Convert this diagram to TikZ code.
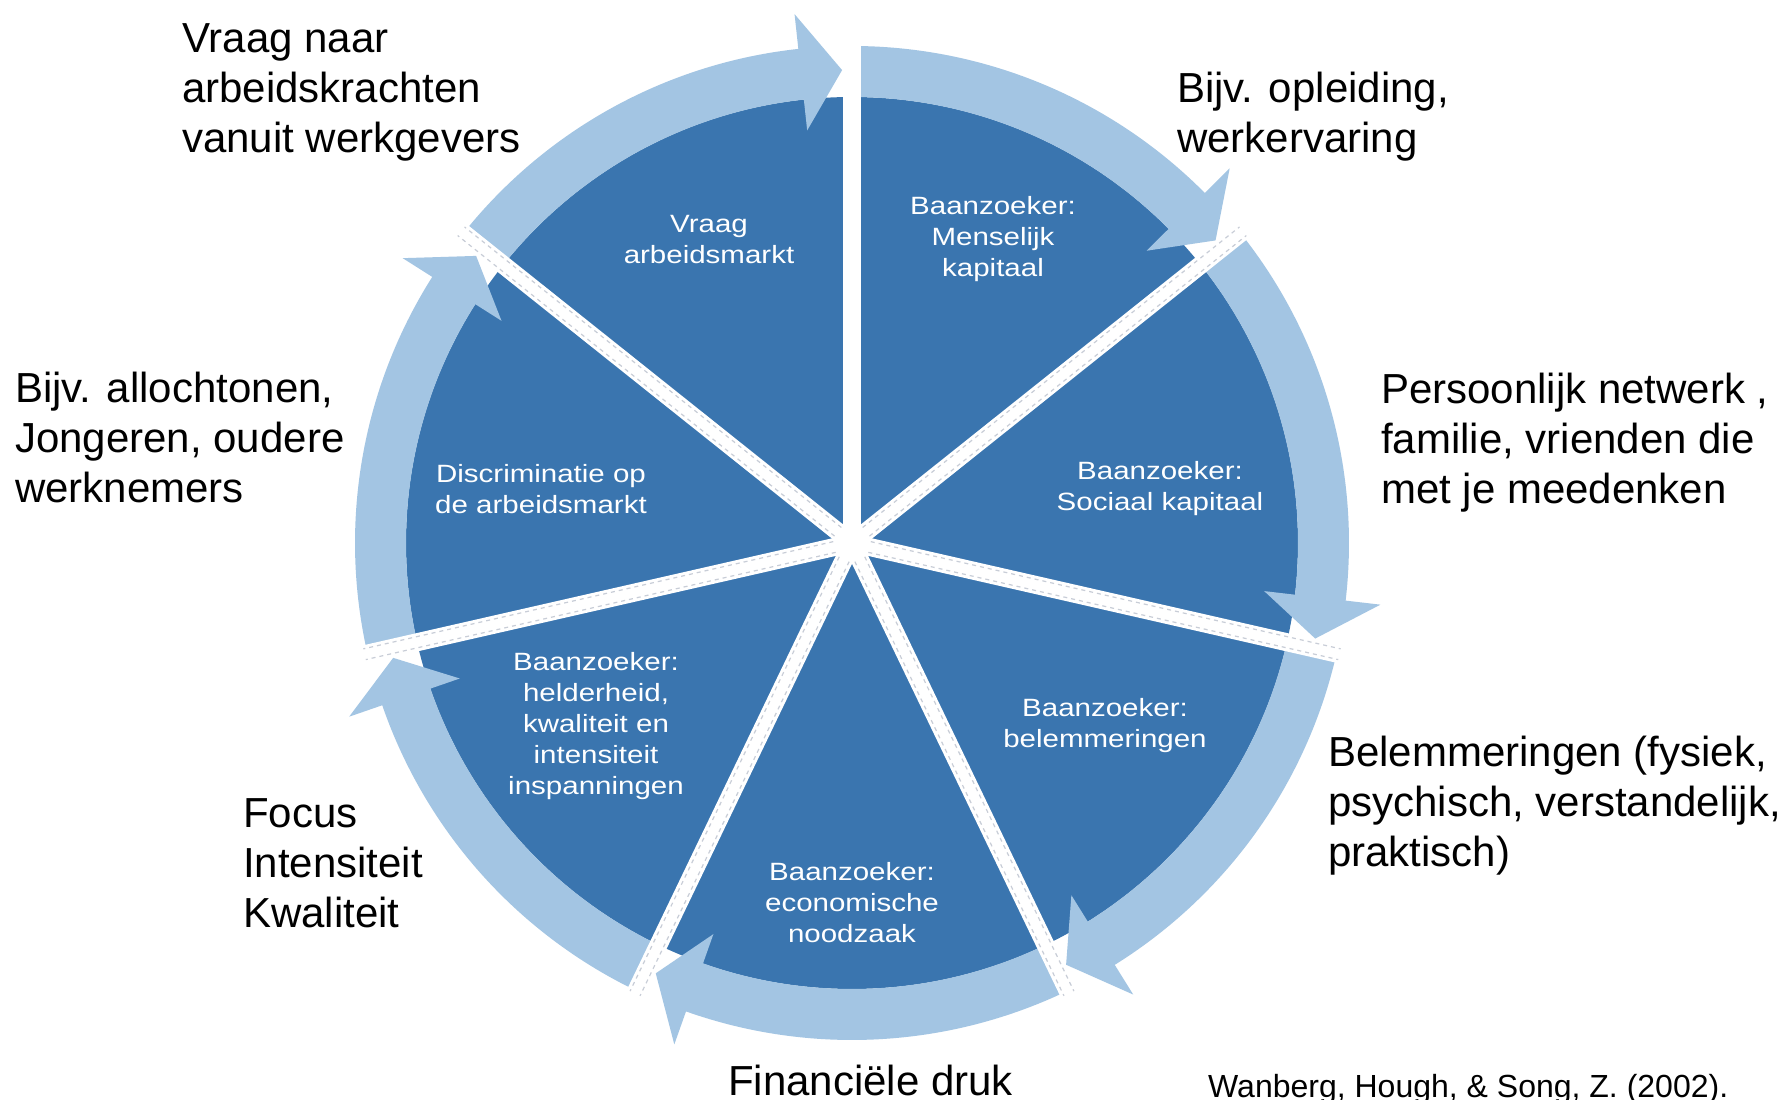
\documentclass[tikz,border=0pt]{standalone}
\usepackage{fontspec}
\setmainfont{Liberation Sans}
\newfontfamily\innerfont[FakeStretch=1.18]{Liberation Sans}
\usetikzlibrary{calc}
\definecolor{darkblue}{RGB}{58,117,175}
\definecolor{lightblue}{RGB}{163,197,227}
\definecolor{dashgray}{RGB}{200,205,215}
\begin{document}
\begin{tikzpicture}[x=1pt,y=1pt,
  outerlabel/.style={anchor=north west, inner sep=0pt, align=left, text=black, font=\fontsize{42}{50}\selectfont},
  innerlabel/.style={anchor=center, inner sep=0pt, align=center, text=white, font=\innerfont\fontsize{25}{31}\selectfont},
  ringarrow/.style={fill=lightblue},
  divider/.style={draw=white, line width=18pt},
  dividerdash/.style={draw=dashgray, line width=1.2pt, dash pattern=on 4pt off 4pt},
]
\useasboundingbox (0,0) rectangle (1792,1100);
\fill[white] (0,0) rectangle (1792,1100);
\coordinate (C) at (852,557);
\begin{scope}[shift={(852,557)}]
  \fill[darkblue] (0,0) circle[radius=446];
  \foreach \i in {0,...,6}{
    \pgfmathsetmacro\A{141.4286-51.4286*\i}
    \pgfmathsetmacro\Bh{\A-51.4286+6.2}
    \pgfmathsetmacro\Bt{\A-51.4286+1.2}
    \fill[ringarrow] (\A:497) arc[start angle=\A, end angle=\Bh, radius=497]
      -- (\Bh:532) -- (\Bt:473) -- (\Bh:415) -- (\Bh:446)
      arc[start angle=\Bh, end angle=\A, radius=446] -- cycle;
  }
  \foreach \k in {0,...,6}{
    \pgfmathsetmacro\T{90-51.4286*\k}
    \draw[divider] (0,0) -- (\T:505);
  }
  \foreach \k in {1,...,6}{
    \pgfmathsetmacro\T{90-51.4286*\k}
    \pgfmathsetmacro\N{\T+90}
    \pgfmathsetmacro\S{\T-90}
    \draw[dividerdash] ($(\T:18)+(\N:5.5)$) -- ($(\T:500)+(\N:5.5)$);
    \draw[dividerdash] ($(\T:18)+(\S:5.5)$) -- ($(\T:500)+(\S:5.5)$);
  }
\end{scope}

% inner labels
\node[innerlabel] (s1) at (709,860) {Vraag\\arbeidsmarkt};
\node[innerlabel] (s2) at (993,861) {Baanzoeker:\\Menselijk\\kapitaal};
\node[innerlabel] (s3) at (1160,611) {Baanzoeker:\\Sociaal kapitaal};
\node[innerlabel] (s4) at (1105,374) {Baanzoeker:\\belemmeringen};
\node[innerlabel] (s5) at (852,197) {Baanzoeker:\\economische\\noodzaak};
\node[innerlabel] (s6) at (596,374) {Baanzoeker:\\helderheid,\\kwaliteit en\\intensiteit\\inspanningen};
\node[innerlabel] (s7) at (541,611) {Discriminatie op\\de arbeidsmarkt};

% outer labels
\node[outerlabel] (o1) at (182,1077) {Vraag naar\\arbeidskrachten\\vanuit werkgevers};
\node[outerlabel] (o2) at (1177,1028) {Bijv. opleiding,\\werkervaring};
\node[outerlabel] (o3) at (1381,727) {Persoonlijk netwerk ,\\familie, vrienden die\\met je meedenken};
\node[outerlabel] (o4) at (1328,364) {Belemmeringen (fysiek,\\psychisch, verstandelijk,\\praktisch)};
\node[outerlabel] (o5) at (728,35) {Financiële druk};
\node[outerlabel] (o6) at (243,302) {Focus\\Intensiteit\\Kwaliteit};
\node[outerlabel] (o7) at (15,728) {Bijv. allochtonen,\\Jongeren, oudere\\werknemers};

\node[anchor=base west, inner sep=0pt, font=\fontsize{32}{38}\selectfont] (cite) at (1208,2) {Wanberg, Hough, \& Song, Z. (2002).};
\end{tikzpicture}
\end{document}
